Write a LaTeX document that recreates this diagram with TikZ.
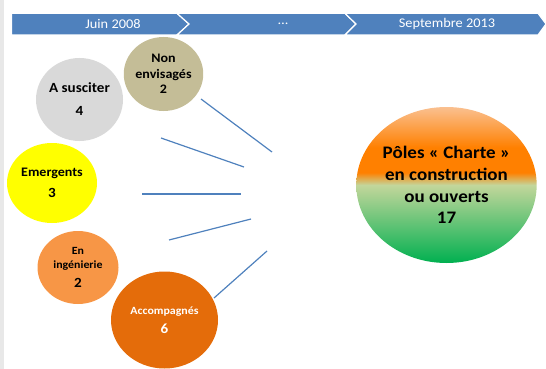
\documentclass[tikz,border=0pt]{standalone}
\usepackage{fontspec}
\setmainfont{Carlito}[FakeStretch=1.08]
\usepackage{tikz}
\usetikzlibrary{shapes.geometric,positioning}

\definecolor{bandeau}{RGB}{79,129,189}
\definecolor{gris}{RGB}{217,217,217}
\definecolor{beige}{RGB}{196,189,151}
\definecolor{jaune}{RGB}{255,255,0}
\definecolor{orclair}{RGB}{247,150,70}
\definecolor{orfonce}{RGB}{228,108,10}
\definecolor{bord}{RGB}{232,232,232}
\definecolor{vert}{RGB}{0,176,80}
\definecolor{vertclair}{RGB}{195,214,155}
\definecolor{orvif}{RGB}{255,128,0}
\definecolor{peche}{RGB}{250,192,144}
\pgfdeclareverticalshading{charte}{100bp}{%
  color(0bp)=(vert); color(25bp)=(vert);
  color(50bp)=(vertclair); color(54bp)=(orvif);
  color(62bp)=(orvif); color(75bp)=(peche); color(100bp)=(peche)}

\begin{document}
\begin{tikzpicture}[x=1pt,y=-1pt,
	etape/.style={fill=bandeau,draw=white,line width=1.2pt,line join=miter},
	date/.style={text=white,font=\fontsize{13.3}{15}\selectfont},
	pole/.style={ellipse,inner sep=0pt,align=center,font=\fontsize{13}{15.5}\bfseries},
	trait/.style={draw=bandeau,line width=1.2pt}]
	\useasboundingbox (0,0) rectangle (546,369);
	\fill[bord] (0,0) rectangle (4,369);
	% bandeau
	\path[etape] (11.5,13.3) -- (177,13.3) -- (189,24) -- (177,35) -- (11.5,35) -- cycle;
	\path[etape] (177,13.3) -- (345,13.3) -- (356,24) -- (345,35) -- (177,35) -- (189,24) -- cycle;
	\path[etape] (345,13.3) -- (538,13.3) -- (546,24) -- (538,35) -- (345,35) -- (356,24) -- cycle;
	\node[date] (d_0) at (113,24) {Juin 2008};
	\node[date] (d_1) at (283,24) {\dots};
	\node[date] (d_2) at (447,24) {Septembre 2013};
	% poles
	\node[pole,fill=gris,minimum width=87,minimum height=83,font=\fontsize{14}{16}\bfseries] (s_0) at (79.5,99.5) {A susciter\\[7pt]4};
	\node[pole,fill=beige,minimum width=79,minimum height=74] (s_1) at (163.5,74) {Non\\envisagés\\2};
	\node[pole,fill=jaune,minimum width=90,minimum height=80] (s_2) at (52,183) {Emergents\\[6pt]{\fontsize{14}{16}\selectfont 3}};
	\node[pole,fill=orclair,minimum width=81,minimum height=73,font=\fontsize{11}{14}\bfseries] (s_3) at (78,267.5) {En\\ingénierie\\[5pt]{\fontsize{14}{16}\selectfont 2}};
	\node[pole,fill=orfonce,minimum width=107,minimum height=97,text=white,font=\fontsize{11}{14}\bfseries] (s_4) at (164.5,320) {Accompagnés\\[5pt]{\fontsize{14}{16}\selectfont 6}};
	\node[pole,shading=charte,minimum width=163,minimum height=156,font=\fontsize{17.6}{21.7}\bfseries] (charte) at (446.5,185) {Pôles « Charte »\\en construction\\ou ouverts\\17};
	% traits
	\coordinate (a_1) at (201,99);  \coordinate (b_1) at (272,152);
	\coordinate (a_2) at (161,138); \coordinate (b_2) at (244,167);
	\coordinate (a_3) at (142,194); \coordinate (b_3) at (241,194);
	\coordinate (a_4) at (169,240); \coordinate (b_4) at (251,219);
	\coordinate (a_5) at (214,298); \coordinate (b_5) at (267,251);
	\foreach \i in {1,...,5}
		\draw[trait] (a_\i) -- (b_\i);
\end{tikzpicture}
\end{document}
